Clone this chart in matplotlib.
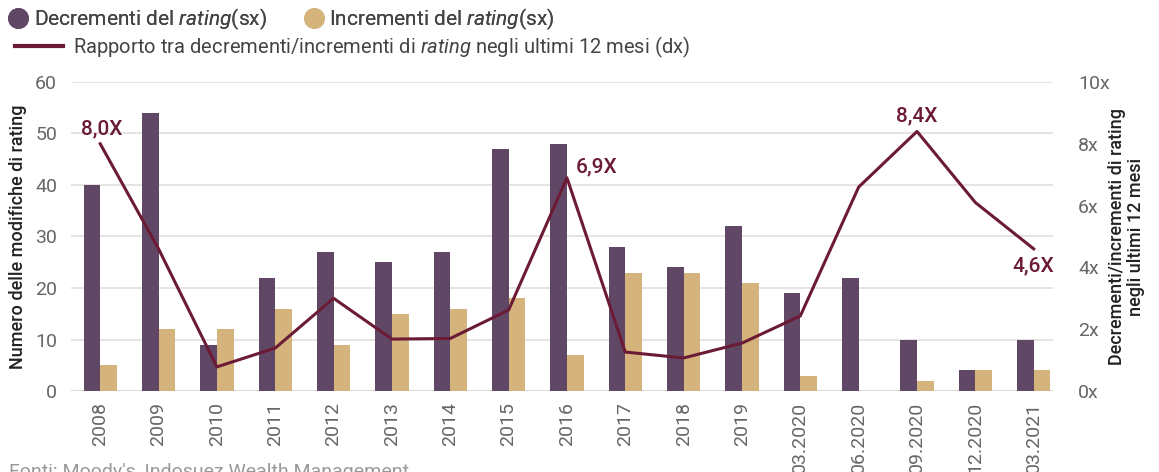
import numpy as np
import matplotlib
matplotlib.use("Agg")
import matplotlib.pyplot as plt
from matplotlib.lines import Line2D

plt.rcParams['font.family'] = ['Roboto', 'DejaVu Sans']
plt.rcParams['mathtext.fontset'] = 'custom'
plt.rcParams['mathtext.rm'] = 'Roboto'
plt.rcParams['mathtext.it'] = 'Roboto:italic'

labels = ['2008', '2009', '2010', '2011', '2012', '2013', '2014', '2015', '2016',
          '2017', '2018', '2019', '03.2020', '06.2020', '09.2020', '12.2020', '03.2021']
decrementi = [40, 54, 9, 22, 27, 25, 27, 47, 48, 28, 24, 32, 19, 22, 10, 4, 10]
incrementi = [5, 12, 12, 16, 9, 15, 16, 18, 7, 23, 23, 21, 3, 0, 2, 4, 4]
rapporto = [8.0, 4.6, 0.78, 1.39, 3.0, 1.68, 1.7, 2.62, 6.9, 1.26, 1.07, 1.55, 2.43, 6.6, 8.4, 6.1, 4.6]
etichette = {0: '8,0X', 8: '6,9X', 14: '8,4X', 16: '4,6X'}

c_dec = '#614766'
c_inc = '#D4B47C'
c_line = '#6B1B35'
c_txt = '#666666'

fig = plt.figure(figsize=(11.59, 4.72), dpi=100)
ax = fig.add_axes([0.0613, 0.1716, 0.8472, 0.6547])
ax2 = ax.twinx()

x = np.arange(len(labels))
w = 0.285
ax.bar(x - w / 2, decrementi, w, color=c_dec, zorder=3)
ax.bar(x + w / 2, incrementi, w, color=c_inc, zorder=3)

ax.set_ylim(0, 60)
ax.set_yticks(range(0, 61, 10))
ax.set_xlim(-0.5, 16.33)
ax.set_xticks(x)
ax.set_xticklabels(labels, rotation=90)
ax.grid(axis='y', color='#E2DEDB', lw=1.2, zorder=0)
ax.tick_params(axis='x', length=0, labelsize=14, labelcolor=c_txt, pad=8)
ax.tick_params(axis='y', length=0, labelsize=14, labelcolor=c_txt, pad=10)
for s in ax.spines.values():
    s.set_visible(False)
ax.set_ylabel('Numero delle modifiche di rating', fontsize=13, color='#222222',
              fontweight='medium')
ax.yaxis.set_label_coords(-0.045, 0.5)

ax2.plot(x, rapporto, color=c_line, lw=2.2, zorder=4)
ax2.set_ylim(0, 10)
ax2.set_yticks(range(0, 11, 2))
ax2.set_yticklabels([f'{v}x' for v in range(0, 11, 2)])
ax2.tick_params(length=0, labelsize=14, labelcolor=c_txt, pad=18)
for s in ax2.spines.values():
    s.set_visible(False)
ax2.set_ylabel('Decrementi/incrementi di rating\nnegli ultimi 12 mesi', fontsize=13,
               color='#222222', fontweight='medium', multialignment='center',
               linespacing=1.05)
ax2.yaxis.set_label_coords(1.056, 0.5)
ax.axhline(0, color='#DDDAD6', lw=1.5, zorder=2)

offs = {0: (1, 11, 'center', 'center'), 8: (6, 8, 'left', 'center'),
        14: (0, 11, 'center', 'center'), 16: (0, -12, 'center', 'center')}
for i, t in etichette.items():
    dx, dy, ha, va = offs[i]
    ax2.annotate(t, (x[i], rapporto[i]), xytext=(dx, dy), textcoords='offset points',
                 ha=ha, va=va, fontsize=15, color=c_line, fontweight='medium')

h1 = [Line2D([], [], marker='o', ls='', color=c_dec, markersize=14),
      Line2D([], [], marker='o', ls='', color=c_inc, markersize=14)]
l1 = fig.legend(h1, [r'Decrementi del $\it{rating}$(sx)', r'Incrementi del $\it{rating}$(sx)'],
                loc='upper left', bbox_to_anchor=(-0.012, 1.025), ncol=2, frameon=False,
                fontsize=15, handletextpad=0.1, columnspacing=1.6, labelcolor='#444444',
                handlelength=1.3)
h2 = [Line2D([], [], color=c_line, lw=3)]
fig.legend(h2, [r'Rapporto tra decrementi/incrementi di $\it{rating}$ negli ultimi 12 mesi (dx)'],
           loc='upper left', bbox_to_anchor=(-0.003, 0.965), frameon=False, fontsize=14.5,
           handlelength=2.4, handletextpad=0.5, labelcolor='#444444')
fig.add_artist(l1)

fig.text(0.008, -0.01, "Fonti: Moody's, Indosuez Wealth Management", fontsize=14, color='#999999')

fig.savefig('out.png', dpi=100)
